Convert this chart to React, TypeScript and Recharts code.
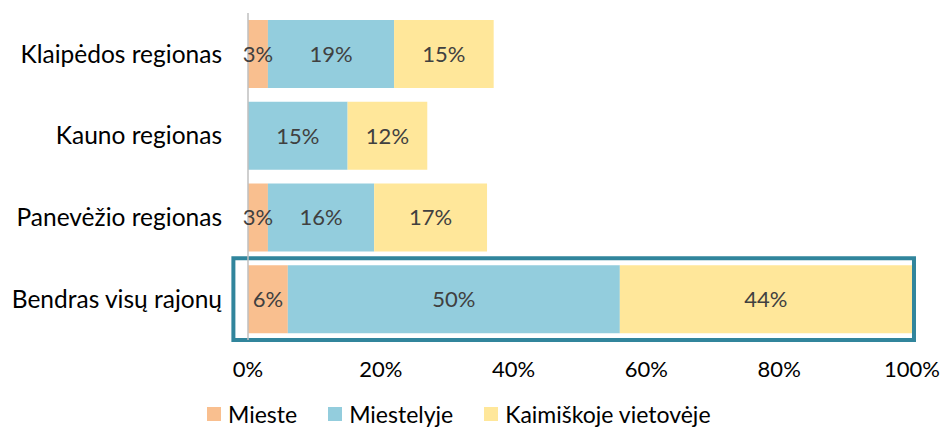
import React from "react";
import {
  BarChart,
  Bar,
  XAxis,
  YAxis,
  LabelList,
  Legend,
  ReferenceArea,
} from "recharts";

const regions = [
  "Klaipėdos regionas",
  "Kauno regionas",
  "Panevėžio regionas",
  "Bendras visų rajonų",
];
const mieste = [3, 0, 3, 6];
const miestelyje = [19, 15, 16, 50];
const kaimiskoje = [15, 12, 17, 44];
const xTicks = [0, 20, 40, 60, 80, 100];

const series = [
  { key: "mieste", name: "Mieste", color: "#F9BF8F" },
  { key: "miestelyje", name: "Miestelyje", color: "#93CDDD" },
  { key: "kaimiskoje", name: "Kaimiškoje vietovėje", color: "#FFE79A" },
];

const data = regions.map((region, i) => ({
  region,
  mieste: mieste[i],
  miestelyje: miestelyje[i],
  kaimiskoje: kaimiskoje[i],
}));

const FONT = "Lato, 'Open Sans', sans-serif";

const pct = (v: any) => (v ? `${v}%` : "");

const LegendBox = () => (
  <div
    style={{
      display: "flex",
      alignItems: "center",
      height: 24,
      paddingTop: 6,
      paddingLeft: 207,
      fontFamily: FONT,
      fontSize: 23,
      lineHeight: "24px",
      color: "#000",
    }}
  >
    {series.map((s) => (
      <div key={s.key} style={{ display: "flex", alignItems: "center", marginRight: 31 }}>
        <span style={{ width: 14, height: 14, background: s.color, marginRight: 7 }} />
        <span>{s.name}</span>
      </div>
    ))}
  </div>
);

export default function App() {
  return (
    <div style={{ position: "absolute", left: 0, top: 0, background: "#fff" }}>
      <BarChart
        width={941}
        height={428}
        data={data}
        layout="vertical"
        margin={{ top: 13, right: 29, left: 0, bottom: 2 }}
      >
        <XAxis
          type="number"
          domain={[0, 100]}
          ticks={xTicks}
          tickFormatter={(v) => `${v}%`}
          axisLine={false}
          tickLine={false}
          tickSize={0}
          tickMargin={21}
          height={56}
          tick={{ fill: "#000", fontSize: 22, fontFamily: FONT }}
        />
        <YAxis
          type="category"
          dataKey="region"
          width={248}
          tickLine={false}
          tickSize={0}
          tickMargin={26}
          axisLine={{ stroke: "#BFBFBF", strokeWidth: 1.5 }}
          tick={{ fill: "#000", fontSize: 24.5, fontFamily: FONT }}
        />
        <Legend verticalAlign="bottom" content={<LegendBox />} wrapperStyle={{ left: 0, width: 941 }} />
        {series.map((s) => (
          <Bar
            key={s.key}
            dataKey={s.key}
            name={s.name}
            stackId="a"
            fill={s.color}
            barSize={68}
            isAnimationActive={false}
          >
            <LabelList
              dataKey={s.key}
              position="center"
              formatter={pct}
              fill="#404040"
              fontSize={22}
              fontFamily={FONT}
            />
          </Bar>
        ))}
        <ReferenceArea
          y1="Bendras visų rajonų"
          y2="Bendras visų rajonų"
          x1={-2.2}
          x2={100.3}
          ifOverflow="visible"
          fill="none"
          fillOpacity={0}
          stroke="#31859C"
          strokeWidth={4}
        />
      </BarChart>
    </div>
  );
}
